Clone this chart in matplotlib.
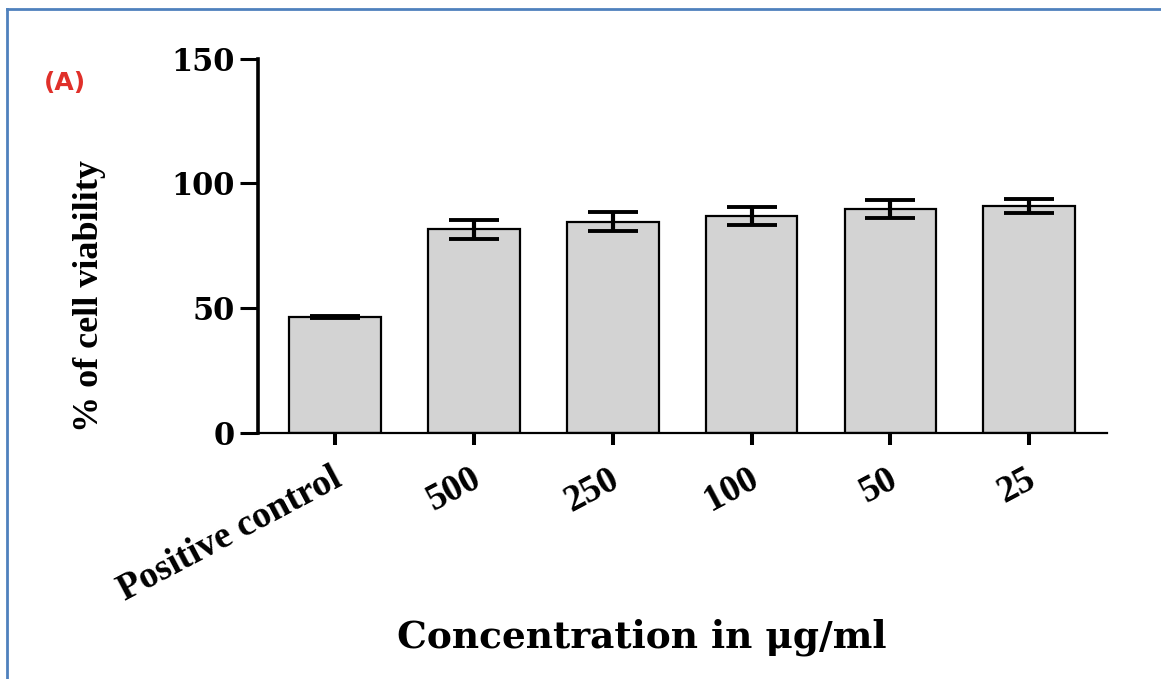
import matplotlib
matplotlib.use("Agg")
import matplotlib.pyplot as plt
from matplotlib.lines import Line2D
import matplotlib.transforms as mtransforms
import numpy as np

# Cell viability (%) for each treatment
categories = ["Positive control", "500", "250", "100", "50", "25"]
viability = [46.4, 81.6, 84.6, 87.0, 89.6, 91.0]
sem = [0.3, 3.75, 3.7, 3.7, 3.7, 2.9]
yticks = [0, 50, 100, 150]

serif = "Liberation Serif"
wide_serif = "DejaVu Serif"

fig = plt.figure(figsize=(11.61, 6.79), dpi=100)
ax = fig.add_axes([0.2222, 0.3627, 0.7313, 0.5510])

x = np.arange(len(categories))
ax.bar(x, viability, width=0.66, color="#d3d3d3", edgecolor="black",
       linewidth=1.6, zorder=2)
ax.errorbar(x, viability, yerr=sem, fmt="none", ecolor="black",
            elinewidth=3.0, capsize=18, capthick=2.8, zorder=3)

ax.set_xlim(-0.555, 5.56)
ax.set_ylim(0, 150)

for side in ("top", "right"):
    ax.spines[side].set_visible(False)
ax.spines["left"].set_linewidth(2.6)
ax.spines["bottom"].set_linewidth(1.6)
ax.tick_params(axis="y", direction="out", length=13, width=2.2, pad=4)
ax.tick_params(axis="x", direction="out", length=8.5, width=2.9, pad=2)

ax.set_yticks(yticks)
ax.set_yticklabels([str(v) for v in yticks], fontfamily=wide_serif,
                   fontweight="bold", fontsize=22)
ax.set_xticks(x)
ax.set_xticklabels(categories, fontfamily=serif, fontweight="bold",
                   fontsize=27, rotation=28, ha="right",
                   rotation_mode="anchor")
# Nudge the slanted category labels down and slightly left
offset = mtransforms.ScaledTranslation(-4 / 100, -14 / 100, fig.dpi_scale_trans)
for lab in ax.get_xticklabels():
    lab.set_transform(lab.get_transform() + offset)

fig.text(90 / 1161, 1 - 296 / 679, "% of cell viability", rotation=90,
         ha="center", va="center", fontfamily=serif, fontweight="bold",
         fontsize=26)
fig.text(642 / 1161, 1 - 637 / 679, "Concentration in \u03bcg/ml",
         ha="center", va="center", fontfamily=wide_serif, fontweight="bold",
         fontsize=27)
fig.text(65 / 1161, 1 - 83 / 679, "(A)", ha="center", va="center",
         color="#e0302a", fontfamily="DejaVu Sans", fontweight="bold",
         fontsize=18)

# Frame lines along the top and left edges
border = "#4f81bd"
fig.add_artist(Line2D([7 / 1161, 7 / 1161], [0, 1 - 9 / 679],
                      transform=fig.transFigure, color=border, linewidth=2))
fig.add_artist(Line2D([7 / 1161, 1], [1 - 9 / 679, 1 - 9 / 679],
                      transform=fig.transFigure, color=border, linewidth=2))

fig.savefig("out.png", dpi=100)
